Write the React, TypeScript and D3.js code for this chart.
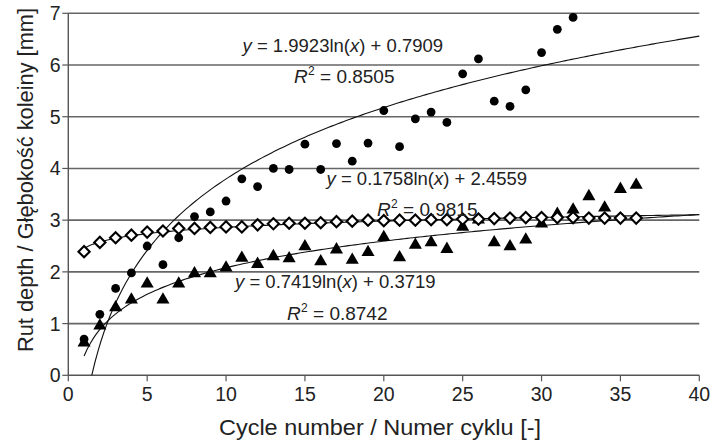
import React from "react";
import * as d3 from "d3";

// Rut depth per loading cycle for three mixtures
const cyclesA = d3.range(1, 33);
const depthA = [0.70, 1.18, 1.68, 1.98, 2.50, 2.14, 2.66, 3.07, 3.16, 3.37, 3.80, 3.65, 4.00, 3.98, 4.47, 3.98,
  4.48, 4.14, 4.49, 5.12, 4.42, 4.96, 5.09, 4.89, 5.83, 6.12, 5.30, 5.20, 5.52, 6.24, 6.69, 6.92];

const cyclesB = d3.range(1, 37);
const depthB = [2.39, 2.57, 2.66, 2.71, 2.77, 2.79, 2.84, 2.84, 2.86, 2.87, 2.87, 2.91, 2.93, 2.94, 2.94, 2.95,
  2.97, 2.98, 3.00, 2.99, 3.00, 3.00, 3.01, 3.01, 3.02, 3.02, 3.03, 3.04, 3.05, 3.05, 3.05, 3.05, 3.04, 3.04, 3.04, 3.04];

const cyclesC = d3.range(1, 37);
const depthC = [0.61, 0.94, 1.29, 1.44, 1.75, 1.44, 1.75, 1.95, 1.95, 2.06, 2.25, 2.13, 2.28, 2.24, 2.47, 2.18,
  2.41, 2.21, 2.36, 2.65, 2.26, 2.50, 2.55, 2.42, 2.85, 2.99, 2.55, 2.47, 2.60, 2.91, 3.10, 3.18, 3.44, 3.22, 3.58, 3.66];

// Logarithmic trend coefficients [slope, intercept]
const fitA = [1.9923, -0.7909];
const fitB = [0.1758, 2.4559];
const fitC = [0.7419, 0.3719];

const eqA = ["1.9923ln(", ") + 0.7909"];
const eqB = ["0.1758ln(", ") + 2.4559"];
const eqC = ["0.7419ln(", ") + 0.3719"];
const r2A = "0.8505";
const r2B = "0.9815";
const r2C = "0.8742";

const xTicks = [0, 5, 10, 15, 20, 25, 30, 35, 40];
const yTicks = [0, 1, 2, 3, 4, 5, 6, 7];

const W = 721;
const H = 441;
const FONT = "'Liberation Sans', Arial, Helvetica, sans-serif";

export default function App() {
  const x = d3.scaleLinear().domain([0, 40]).range([68.3, 699.3]);
  const y = d3.scaleLinear().domain([0, 7]).range([375.3, 13.3]);

  const trend = (fit: number[]) => {
    const [a, b] = fit;
    const start = Math.max(1, Math.exp(-b / a));
    const n = 200;
    const pts: [number, number][] = d3.range(n + 1).map((i) => {
      const xv = start + ((40 - start) * i) / n;
      return [xv, a * Math.log(xv) + b];
    });
    return d3
      .line<[number, number]>()
      .x((d) => x(d[0]))
      .y((d) => y(d[1]))(pts) as string;
  };

  const tri = d3.symbol().type(d3.symbolTriangle).size(74)() as string;

  const eq = (parts: string[], tx: number, ty: number) => (
    <text x={tx} y={ty} fontSize={18.5} fill="#222">
      <tspan fontStyle="italic">y</tspan>
      <tspan> = {parts[0]}</tspan>
      <tspan fontStyle="italic">x</tspan>
      <tspan>{parts[1]}</tspan>
    </text>
  );

  const r2 = (val: string, tx: number, ty: number) => (
    <g>
      <text x={tx} y={ty} fontSize={19} fill="#222" fontStyle="italic">R</text>
      <text x={tx + 14} y={ty - 8} fontSize={12} fill="#222">2</text>
      <text x={tx + 26} y={ty} fontSize={19} fill="#222">= {val}</text>
    </g>
  );

  return (
    <svg width={W} height={H} style={{ position: "absolute", left: 0, top: 0, background: "#fff" }} fontFamily={FONT}>
      {/* horizontal gridlines */}
      {yTicks.filter((t) => t > 0).map((t) => (
        <line key={"g" + t} x1={x(0)} x2={x(40)} y1={y(t)} y2={y(t)} stroke="#666" strokeWidth={1.6} />
      ))}
      {/* axes */}
      <line x1={x(0)} x2={x(40)} y1={y(0)} y2={y(0)} stroke="#555" strokeWidth={1.4} />
      <line x1={x(0)} x2={x(0)} y1={y(0)} y2={y(7)} stroke="#555" strokeWidth={1.4} />
      {xTicks.map((t) => (
        <g key={"xt" + t}>
          <line x1={x(t)} x2={x(t)} y1={y(0)} y2={y(0) + 6} stroke="#555" strokeWidth={1.2} />
          <text x={x(t)} y={400.5} fontSize={19.5} textAnchor="middle" fill="#222">{t}</text>
        </g>
      ))}
      {yTicks.map((t) => (
        <g key={"yt" + t}>
          <line x1={x(0) - 6} x2={x(0)} y1={y(t)} y2={y(t)} stroke="#555" strokeWidth={1.2} />
          <text x={60.5} y={y(t) + 7} fontSize={19.5} textAnchor="end" fill="#222">{t}</text>
        </g>
      ))}

      {/* trend curves */}
      <path d={trend(fitA)} fill="none" stroke="#111" strokeWidth={1.1} />
      <path d={trend(fitB)} fill="none" stroke="#111" strokeWidth={1.1} />
      <path d={trend(fitC)} fill="none" stroke="#111" strokeWidth={1.1} />

      {/* measured points */}
      {cyclesC.map((c, i) => (
        <path key={"c" + c} d={tri} transform={`translate(${x(c)},${y(depthC[i]) - 1})`} fill="#000" />
      ))}
      {cyclesB.map((c, i) => (
        <path key={"b" + c} d="M0,-5.6L5.6,0L0,5.6L-5.6,0Z" transform={`translate(${x(c)},${y(depthB[i])})`}
          fill="#fff" stroke="#000" strokeWidth={2.1} />
      ))}
      {cyclesA.map((c, i) => (
        <circle key={"a" + c} cx={x(c)} cy={y(depthA[i])} r={4.4} fill="#000" />
      ))}

      {/* regression labels */}
      {eq(eqA, 242.5, 51.5)}
      {r2(r2A, 294, 83.3)}
      {eq(eqB, 326.5, 185)}
      {r2(r2B, 377, 215.5)}
      {eq(eqC, 235, 288.3)}
      {r2(r2C, 287, 320)}

      {/* axis titles */}
      <text x={380} y={435} fontSize={21.5} textAnchor="middle" fill="#222" textLength={322} lengthAdjust="spacingAndGlyphs">
        Cycle number / Numer cyklu [-]
      </text>
      <text transform="translate(32.5,180) rotate(-90)" fontSize={21.8} textAnchor="middle" fill="#222">
        Rut depth / Głębokość koleiny [mm]
      </text>
    </svg>
  );
}
